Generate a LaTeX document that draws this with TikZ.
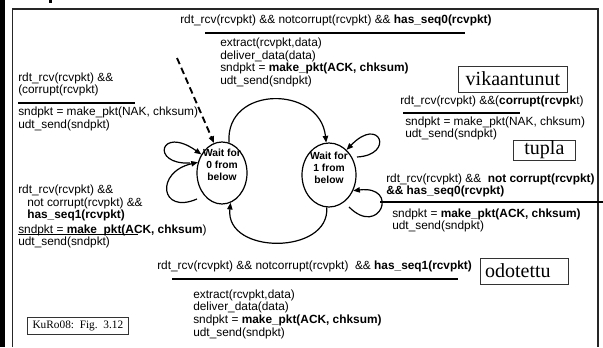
\documentclass[tikz,border=0pt]{standalone}
\usepackage{fontspec}
\setmainfont{Liberation Sans}
\newfontfamily\tagfont{Liberation Serif}
\usetikzlibrary{arrows.meta,shapes.geometric}

\begin{document}
\begin{tikzpicture}[x=0.75pt,y=-0.75pt,
  txt/.style={anchor=west,inner sep=0pt,font=\fontsize{8.9}{9.5}\selectfont,align=left},
  rule/.style={line width=1.5pt},
  rulethin/.style={line width=1.1pt},
  state/.style={draw,ellipse,line width=0.9pt,minimum width=37.5pt,minimum height=46.5pt,inner sep=0pt},
  statetext/.style={font=\fontsize{7.7}{9}\selectfont\bfseries,align=center,inner sep=0pt},
  tag/.style={draw=black!80,line width=0.6pt,anchor=west,inner xsep=3.5pt,inner ysep=0pt,align=center,font=\fontsize{15}{15}\tagfont},
  edge/.style={line width=0.9pt,-{Triangle[length=5pt,width=4pt]}},
]
\useasboundingbox (0,0) rectangle (603,347);

% page frame
\fill (0,0) rectangle (4.5,347);
\fill (49,0) rectangle (52,3);
\draw[line width=1.1pt,black!85] (12.5,347) -- (12.5,9) -- (598,9) -- (598,347);

% states
\node[state] (w0) at (222,173) {};
\node[statetext] (t0) at (222,165) {Wait for\\0 from\\below};
\node[state,minimum width=40.5pt,minimum height=48pt] (w1) at (329,175) {};
\node[statetext] (t1) at (329,168) {Wait for\\1 from\\below};

% transitions between the states
\draw[edge] (w0.77) .. controls (225,85) and (320,85) .. (w1.95);
\draw[edge] (w1.-94) .. controls (330,255) and (225,255) .. (w0.-74);

% self loops
\coordinate (l0a) at (190,163);
\draw[edge] (l0a) .. controls (150,165) and (160,125) .. (w0.138);
\coordinate (l0b) at (197,199);
\draw[edge] (l0b) .. controls (160,215) and (155,172) .. (w0.156);
\coordinate (l1a) at (357,157);
\draw[edge] (l1a) .. controls (395,155) and (380,115) .. (w1.55);
\coordinate (l1b) at (349,207);
\draw[edge] (l1b) .. controls (380,238) and (400,185) .. (w1.-33);

% initial state
\coordinate (init) at (177,58);
\draw[edge,line width=1.4pt,dash pattern=on 5pt off 3pt] (init) -- (w0.105);

% 0 -> 1
\node[txt] (c01) at (180,20) {rdt\_rcv(rcvpkt) \&\& notcorrupt(rcvpkt) \&\& \textbf{has\_seq0(rcvpkt)}};
\draw[rule] (205,32.5) -- (465,32.5);
\node[txt] (a01) at (220,62.5) {extract(rcvpkt,data)\\deliver\_data(data)\\sndpkt = \textbf{make\_pkt(ACK, chksum)}\\udt\_send(sndpkt)};

% 0 -> 0, corrupt
\node[txt] (c00a) at (18,84.5) {rdt\_rcv(rcvpkt) \&\&\\(corrupt(rcvpkt)};
\draw[rulethin] (18,103) -- (135,103);
\node[txt] (a00a) at (18,119) {sndpkt = make\_pkt(NAK, chksum)\\udt\_send(sndpkt)};

% 1 -> 1, corrupt
\node[tag,text width=74.75pt,minimum height=19.5pt] (bv) at (458,79) {vikaantunut};
\node[txt] (c11a) at (400,101) {rdt\_rcv(rcvpkt) \&\&(\textbf{corrupt(rcvpk}t)};
\draw[rulethin] (403,113) -- (520,113);
\node[txt] (a11a) at (405,128.5) {sndpkt = make\_pkt(NAK, chksum)\\udt\_send(sndpkt)};

% 1 -> 1, duplicate
\node[tag,text width=39.5pt,minimum height=15pt] (bt) at (513,150) {tupla};
\node[txt] (c11b) at (386,185.5) {rdt\_rcv(rcvpkt) \&\&\ \ \textbf{not corrupt(rcvpkt)}\\\textbf{\&\& has\_seq0(rcvpkt)}};
\draw[rule] (380,202) -- (603,202);
\node[txt] (a11b) at (392,220.5) {sndpkt = \textbf{make\_pkt(ACK, chksum)}\\udt\_send(sndpkt)};

% 0 -> 0, duplicate
\node[txt] (c00b) at (18,203) {rdt\_rcv(rcvpkt) \&\&\\\hspace*{6.75pt}not corrupt(rcvpkt) \&\&\\\hspace*{6.75pt}\textbf{has\_seq1(rcvpkt)}};
\node[txt] (a00b) at (18,236.5) {sndpkt = \textbf{make\_pkt(ACK, chksum})\\udt\_send(sndpkt)};
\draw[rulethin] (18,234.5) -- (138,234.5);

% 1 -> 0
\node[txt] (c10) at (157,266) {rdt\_rcv(rcvpkt) \&\& notcorrupt(rcvpkt)\ \ \&\& \textbf{has\_seq1(rcvpkt)}};
\node[tag,align=left,text width=59pt,minimum height=19.5pt] (bo) at (480,271) {odotettu};
\draw[rule] (172,279) -- (458,279);
\node[txt] (a10) at (193,314) {extract(rcvpkt,data)\\deliver\_data(data)\\sndpkt = \textbf{make\_pkt(ACK, chksum)}\\udt\_send(sndpkt)};

% source
\node[tag,text width=68.75pt,minimum height=12.75pt,font=\fontsize{8.5}{9}\tagfont] (src) at (27,326) {KuRo08: Fig. 3.12};
\end{tikzpicture}
\end{document}
